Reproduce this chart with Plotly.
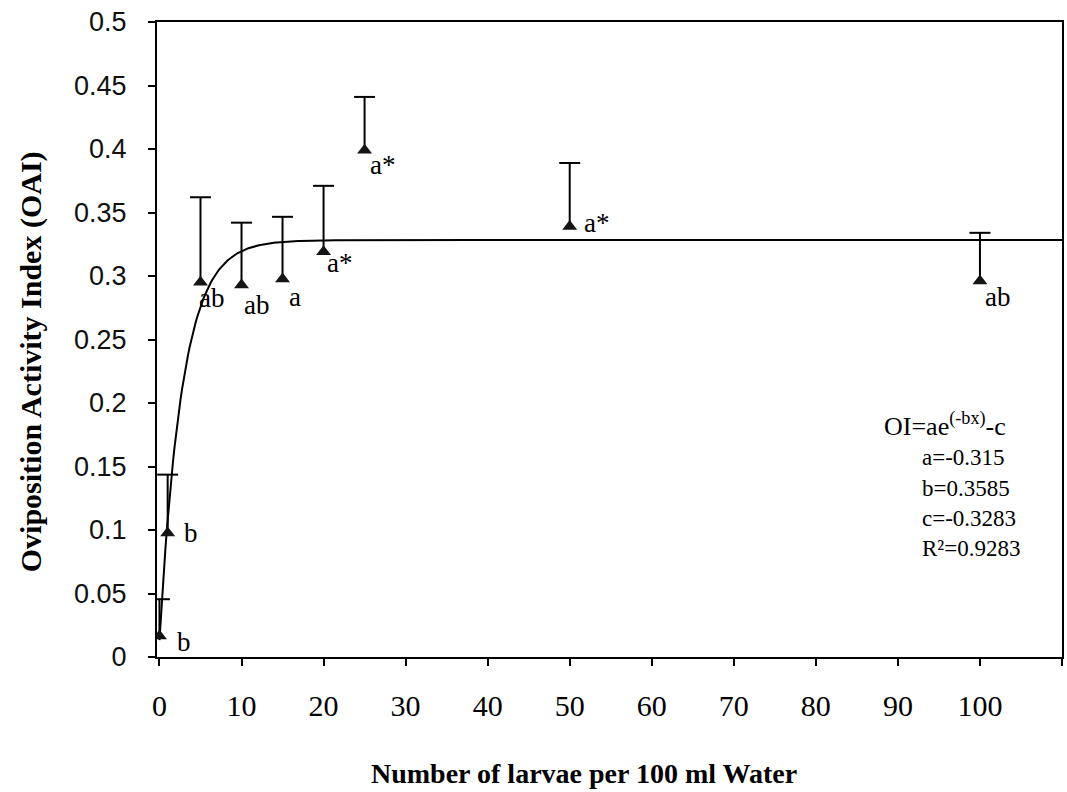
import numpy as np
import plotly.graph_objects as go

# Larval density (per 100 ml water) and mean oviposition activity index
larvae = [0, 1, 5, 10, 15, 20, 25, 50, 100]
oai_mean = [0.0165, 0.0976, 0.295, 0.293, 0.2976, 0.319, 0.399, 0.339, 0.296]
oai_err = [0.029, 0.046, 0.067, 0.049, 0.049, 0.052, 0.042, 0.050, 0.038]
groups = ["b", "b", "ab", "ab", "a", "a*", "a*", "a*", "ab"]

# Fitted exponential model OI = a*exp(-b*x) - c
fit_a = -0.315
fit_b = 0.3585
fit_c = -0.3283
fit_r2 = 0.9283

x_ticks = [0, 10, 20, 30, 40, 50, 60, 70, 80, 90, 100]
x_tick_text = ["0", "10", "20", "30", "40", "50", "60", "70", "80", "90", "100"]
y_ticks = [0, 0.05, 0.1, 0.15, 0.2, 0.25, 0.3, 0.35, 0.4, 0.45, 0.5]
y_tick_text = ["0", "0.05", "0.1", "0.15", "0.2", "0.25", "0.3", "0.35", "0.4", "0.45", "0.5"]

serif = "Liberation Serif"

# plot-area geometry in pixels (used to place free text)
L, R, T, B = 157, 1064, 22, 657
W, H = R - L, B - T


def dom(px, py):
    return (px - L) / W, (B - py) / H


x_fit = np.linspace(0, 110, 600)
y_fit = fit_a * np.exp(-fit_b * x_fit) - fit_c

fig = go.Figure()

fig.add_trace(go.Scatter(
    x=x_fit, y=y_fit, mode="lines",
    line=dict(color="black", width=2),
    hoverinfo="skip", showlegend=False,
))

# upper error bars: stems from the mean to mean + error, with a cap on top
stem_x, stem_y = [], []
for xv, yv, e in zip(larvae, oai_mean, oai_err):
    stem_x += [xv, xv, None]
    stem_y += [yv, yv + e, None]
fig.add_trace(go.Scatter(
    x=stem_x, y=stem_y, mode="lines",
    line=dict(color="black", width=2),
    hoverinfo="skip", showlegend=False,
))
fig.add_trace(go.Scatter(
    x=larvae, y=[m + e for m, e in zip(oai_mean, oai_err)], mode="markers",
    marker=dict(symbol="line-ew", size=15, line=dict(color="black", width=2)),
    hoverinfo="skip", showlegend=False,
))

fig.add_trace(go.Scatter(
    x=larvae, y=oai_mean, mode="markers",
    marker=dict(symbol="triangle-up", size=13, color="#151515"),
    showlegend=False,
))

# significance letters beside each mean (pixel offsets)
label_shift = [(25, -6), (23, 0), (11, -16), (15, -20), (12, -18), (16, -11), (18, -15), (27, 3), (18, -16)]
for xv, yv, g, (dx, dy) in zip(larvae, oai_mean, groups, label_shift):
    fig.add_annotation(x=xv, y=yv, text=g, showarrow=False,
                       xshift=dx, yshift=dy, xanchor="center", yanchor="middle",
                       font=dict(family=serif, size=27, color="black"))

# axis titles
tx, ty = dom(585, 773)
fig.add_annotation(xref="x domain", yref="y domain", x=tx, y=ty,
                   xanchor="center", yanchor="middle",
                   text="<b>Number of larvae per 100 ml Water</b>",
                   showarrow=False, font=dict(family=serif, size=28, color="black"))
tx, ty = dom(31, 362)
fig.add_annotation(xref="x domain", yref="y domain", x=tx, y=ty,
                   xanchor="center", yanchor="middle",
                   text="<b>Oviposition Activity Index (OAI)</b>", textangle=-90,
                   showarrow=False, font=dict(family=serif, size=30, color="black"))

# model equation and fitted parameters
tx, ty = dom(884, 424)
fig.add_annotation(xref="x domain", yref="y domain", x=tx, y=ty,
                   xanchor="left", yanchor="middle",
                   text="OI=ae<sup>(-bx)</sup>-c", showarrow=False,
                   font=dict(family=serif, size=26, color="black"))
param_lines = [f"a={fit_a}", f"b={fit_b}", f"c={fit_c}", f"R²={fit_r2}"]
for i, t in enumerate(param_lines):
    tx, ty = dom(922, 458 + 30 * i)
    fig.add_annotation(xref="x domain", yref="y domain", x=tx, y=ty,
                       xanchor="left", yanchor="middle", text=t,
                       showarrow=False, font=dict(family=serif, size=23, color="black"))

fig.update_layout(
    width=1067, height=792,
    margin=dict(l=L, r=1067 - R, t=T, b=792 - B),
    paper_bgcolor="white", plot_bgcolor="white",
    xaxis=dict(range=[-0.3, 110], tickvals=x_ticks, ticktext=x_tick_text,
               ticks="outside", ticklen=7, tickwidth=1.5, tickcolor="black",
               minor=dict(ticks="outside", ticklen=7, tickwidth=1.5, tickcolor="black",
                          tick0=0, dtick=10, showgrid=False),
               showline=True, linecolor="black", linewidth=2, mirror=True,
               showgrid=False, zeroline=False, ticklabelstandoff=14,
               tickfont=dict(family=serif, size=30, color="black")),
    yaxis=dict(range=[0, 0.5], tickvals=y_ticks, ticktext=y_tick_text,
               ticks="outside", ticklen=7, tickwidth=1.5, tickcolor="black",
               showline=True, linecolor="black", linewidth=2, mirror=True,
               showgrid=False, zeroline=False, ticklabelstandoff=16,
               tickfont=dict(family="Liberation Sans", size=27, color="#111")),
)

fig.write_html("out.html")
